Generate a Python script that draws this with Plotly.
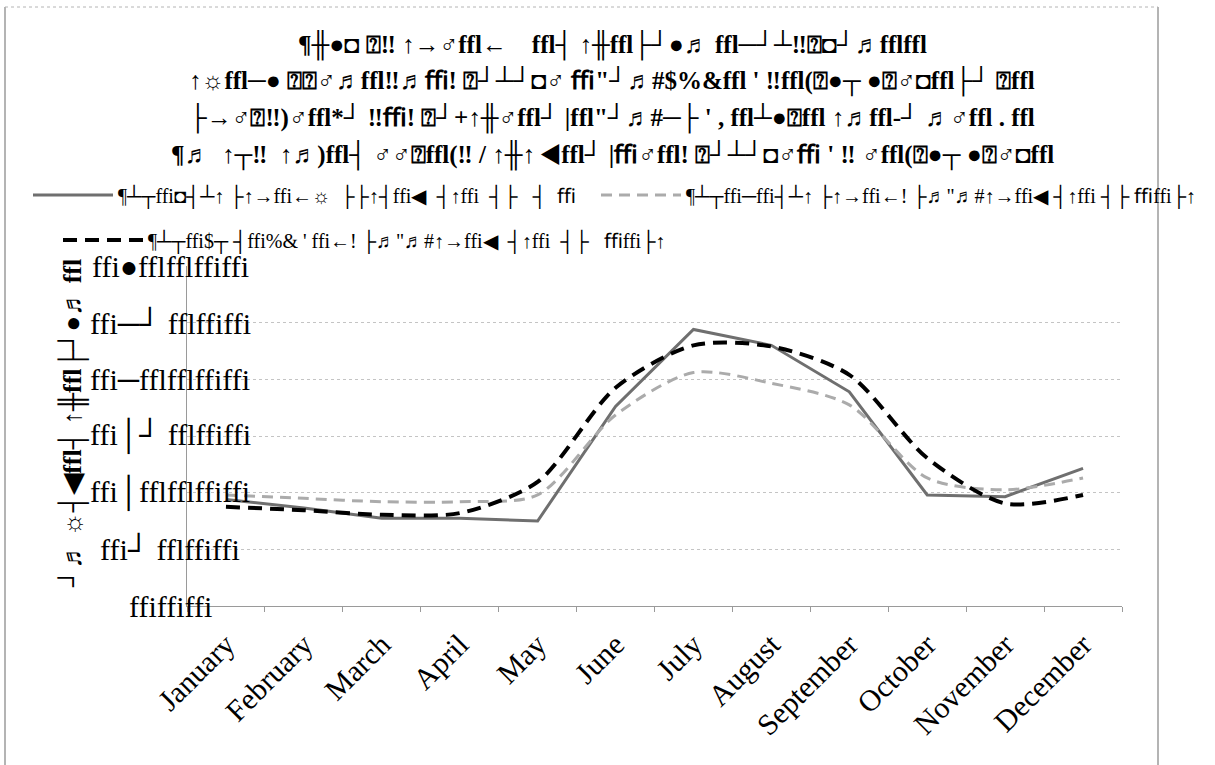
import plotly.graph_objects as go

months = ["January", "February", "March", "April", "May", "June", "July",
          "August", "September", "October", "November", "December"]

series_a_name = "¶┴┬ffi◘┤┴↑ ├↑→ffi←☼  ├├↑┤ffi◀  ┤↑ffi  ┤├   ┤  ﬃ"
series_b_name = "¶┴┬ffi─ffi┤┴↑ ├↑→ffi←! ├♬\"♬#↑→ffi◀ ┤↑ffi ┤├ ﬃffi├↑"
series_c_name = "¶┴┬ffi$┬ ┤ffi%& ' ffi←! ├♬\"♬#↑→ffi◀  ┤↑ffi  ┤├   ﬃffi├↑"

series_a = [1.88, 1.73, 1.55, 1.55, 1.50, 3.52, 4.88, 4.60, 3.78, 1.96, 1.93, 2.43]
series_b = [1.96, 1.90, 1.84, 1.84, 1.96, 3.37, 4.12, 3.93, 3.55, 2.26, 2.05, 2.26]
series_c = [1.75, 1.69, 1.61, 1.64, 2.19, 3.85, 4.60, 4.58, 4.08, 2.61, 1.81, 1.96]

y_tick_vals = [0, 1, 2, 3, 4, 5, 6]
y_tick_text = ["ffiffiffi", "ffi┘ fflffiffi", "ffi│fflfflffiffi", "ffi│┘ fflffiffi",
               "ffi─fflfflffiffi", "ffi─┘ fflffiffi", "ffi●fflfflffiffi"]

title_lines = [
    "¶╫●◘ ⍰‼ ↑→♂ffl←    ffl┤ ↑╫ffl├┘●♬ ffl─┘┴‼⍰◘┘♬fflffl",
    "↑☼ffl─● ⍰⍰♂♬ffl‼♬ﬃ! ⍰┘┴┘◘♂ ﬃ\"┘♬#$%&ffl ' ‼ffl(⍰●┬ ●⍰♂◘ffl├┘ ⍰ffl",
    "├→♂⍰‼)♂ffl*┘ ‼ﬃ! ⍰┘+↑╫♂ffl┘ |ffl\"┘♬#─├ ' , ffl┴●⍰ffl ↑♬ffl-┘ ♬♂ffl . ffl",
    "¶♬  ↑┬‼  ↑♬)ffl┤ ♂♂⍰ffl(‼ / ↑╫↑ ◀ffl┘ |ﬃ♂ffl! ⍰┘┴┘◘♂ﬃ ' ‼ ♂ffl(⍰●┬ ●⍰♂◘ffl",
]
y_title = "┘♬ ☼┤◀ffl┤ ↑╫ffl├┘●♬ ffl"

SERIF = "Liberation Serif, Times New Roman, serif"

# plot-area geometry (pixels) used to convert to paper coordinates
L, R, T, B = 187, 1122, 266, 606
W, H = R - L, B - T


def px(x):
    return (x - L) / W


def py(y):
    return (B - y) / H


fig = go.Figure()
fig.add_trace(go.Scatter(x=months, y=series_a, name=series_a_name, mode="lines",
                         legend="legend",
                         line=dict(color="#6f6f6f", width=3)))
fig.add_trace(go.Scatter(x=months, y=series_b, name=series_b_name, mode="lines",
                         legend="legend3",
                         line=dict(color="#ababab", width=3, dash="11px,7px",
                                   shape="spline", smoothing=0.8)))
fig.add_trace(go.Scatter(x=months, y=series_c, name=series_c_name, mode="lines",
                         legend="legend2",
                         line=dict(color="#000000", width=4, dash="14px,8px",
                                   shape="spline", smoothing=0.8)))

annotations = []
for v, t in zip(y_tick_vals, y_tick_text):
    annotations.append(dict(x=px(170), xref="paper", y=v, yref="y", text=t,
                            showarrow=False, xanchor="center", yanchor="middle",
                            font=dict(family=SERIF, size=30, color="#000")))
annotations.append(dict(x=px(55), xref="paper", y=py(424), yref="paper",
                        text="<b>" + y_title + "</b>",
                        showarrow=False, textangle=-90,
                        font=dict(family=SERIF, size=26, color="#000")))
for i, (line, yc) in enumerate(zip(title_lines, [45, 82, 118, 155])):
    annotations.append(dict(x=px(612), xref="paper", y=py(yc), yref="paper",
                            yanchor="middle", xanchor="center", showarrow=False,
                            text="<b>" + line + "</b>",
                            font=dict(family=SERIF, size=25, color="#000")))

legend_common = dict(orientation="h", xanchor="left", yanchor="middle",
                     font=dict(family=SERIF, size=20, color="#000"),
                     itemwidth=80, bgcolor="rgba(0,0,0,0)")

fig.update_layout(
    width=1215, height=765,
    margin=dict(l=L, r=1215 - R, t=T, b=765 - B, autoexpand=False),
    paper_bgcolor="white", plot_bgcolor="white",
    showlegend=True,
    legend=dict(x=px(28), y=py(195), **legend_common),
    legend3=dict(x=px(596), y=py(195), **legend_common),
    legend2=dict(x=px(58), y=py(240), **legend_common),
    annotations=annotations,
    shapes=[
        dict(type="line", xref="paper", yref="paper", x0=px(5), x1=px(5),
             y0=py(7), y1=py(800), line=dict(color="#b4b4b4", width=2)),
        dict(type="line", xref="paper", yref="paper", x0=px(1158), x1=px(1158),
             y0=py(7), y1=py(800), line=dict(color="#b4b4b4", width=2)),
        dict(type="line", xref="paper", yref="paper", x0=px(5), x1=px(1158),
             y0=py(7), y1=py(7), line=dict(color="#b4b4b4", width=1, dash="dot")),
    ],
)
fig.update_xaxes(type="category", range=[-0.5, 11.5], tickangle=-45,
                 tickson="boundaries", ticks="outside", ticklen=5, tickcolor="#9a9a9a",
                 showline=True, linecolor="#9a9a9a", linewidth=1, showgrid=False,
                 ticklabelstandoff=8, automargin=False,
                 tickfont=dict(family=SERIF, size=30, color="#000"))
fig.update_yaxes(range=[0, 6], tickvals=y_tick_vals, showticklabels=False,
                 showline=True, linecolor="#9a9a9a", linewidth=1, automargin=False,
                 showgrid=True, gridcolor="#c4c4c4", griddash="dot", gridwidth=1,
                 zeroline=False)

fig.write_html("out.html")
